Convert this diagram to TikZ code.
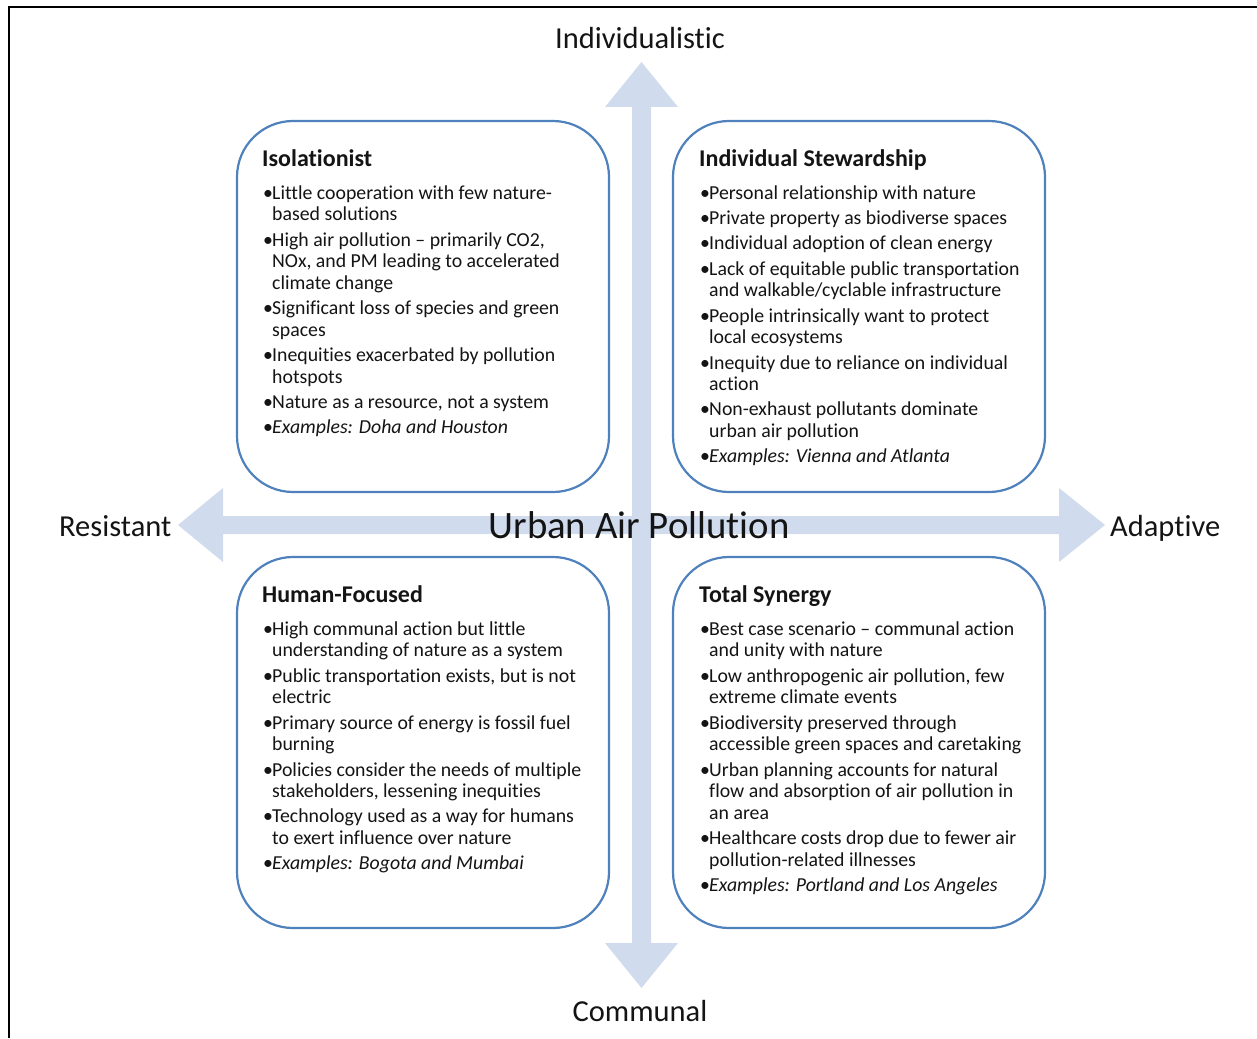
\documentclass[tikz,border=0pt]{standalone}
\usepackage{fontspec}
\setmainfont{Carlito}[Ligatures={TeX,NoCommon}]
\definecolor{boxblue}{RGB}{79,129,189}
\definecolor{arrowfill}{RGB}{208,220,238}
\definecolor{txt}{RGB}{20,20,20}
\newcommand{\qtitle}[1]{{\fontsize{24}{26}\selectfont\bfseries #1}\par\vspace{8pt}}
\newcommand{\itm}[1]{\par\hangindent=10pt\hangafter=1\noindent\makebox[10pt][l]{\hspace{1pt}\textbullet}#1}
\newenvironment{qtext}{\begin{minipage}[t]{440pt}\raggedright\fontsize{19.8}{21.6}\selectfont\setlength{\parskip}{3.7pt}}{\end{minipage}}
\begin{document}
\begin{tikzpicture}[x=1pt,y=-1pt,
  qbox/.style={draw=boxblue, line width=2.2pt, fill=white, rounded corners=56pt,
    minimum width=372pt, minimum height=371pt, inner sep=0pt},
  qtxt/.style={anchor=base west, inner sep=0pt, text=txt},
  axislabel/.style={inner sep=0pt, text=txt, font=\fontsize{30.5}{34}\selectfont}]
\useasboundingbox (0,0) rectangle (1257,1038);
\draw[line width=2pt] (9,1038) -- (9,6.7) -- (1257,6.7);
% axis arrows
\fill[arrowfill] (632,107) -- (605,107) -- (641.5,62) -- (678,107) -- (651,107)
  -- (651,943) -- (678,943) -- (641.5,988) -- (605,943) -- (632,943) -- cycle;
\fill[arrowfill] (223,516) -- (223,488) -- (178,525) -- (223,562) -- (223,534)
  -- (1059,534) -- (1059,562) -- (1105,525) -- (1059,488) -- (1059,516) -- cycle;
% boxes
\node[qbox] (tl) at (423,306.5) {};
\node[qbox] (tr) at (859,306.5) {};
\node[qbox] (bl) at (423,742.5) {};
\node[qbox] (br) at (859,742.5) {};
% labels
\node[axislabel, anchor=base] (ind) at (640,49) {Individualistic};
\node[axislabel, anchor=base] (com) at (640,1021) {Communal};
\node[axislabel, anchor=base west] (res) at (59,536) {Resistant};
\node[axislabel, anchor=base west] (ada) at (1110,536) {Adaptive};
\node[inner sep=0pt, anchor=base, text=txt, font=\fontsize{38.8}{42}\selectfont] (uap) at (639,538) {Urban Air Pollution};
% texts
\node[qtxt] (tlt) at (262,166) {\begin{qtext}
\qtitle{Isolationist}
\itm{Little cooperation with few nature-\newline based solutions}
\itm{High air pollution – primarily CO2,\newline NOx, and PM leading to accelerated\newline climate change}
\itm{Significant loss of species and green\newline spaces}
\itm{Inequities exacerbated by pollution\newline hotspots}
\itm{Nature as a resource, not a system}
\itm{\textit{Examples: Doha and Houston}}
\end{qtext}};
\node[qtxt] (trt) at (699,166) {\begin{qtext}
\qtitle{Individual Stewardship}
\itm{Personal relationship with nature}
\itm{Private property as biodiverse spaces}
\itm{Individual adoption of clean energy}
\itm{Lack of equitable public transportation\newline and walkable/cyclable infrastructure}
\itm{People intrinsically want to protect\newline local ecosystems}
\itm{Inequity due to reliance on individual\newline action}
\itm{Non-exhaust pollutants dominate\newline urban air pollution}
\itm{\textit{Examples: Vienna and Atlanta}}
\end{qtext}};
\node[qtxt] (blt) at (262,602) {\begin{qtext}
\qtitle{Human-Focused}
\itm{High communal action but little\newline understanding of nature as a system}
\itm{Public transportation exists, but is not\newline electric}
\itm{Primary source of energy is fossil fuel\newline burning}
\itm{Policies consider the needs of multiple\newline stakeholders, lessening inequities}
\itm{Technology used as a way for humans\newline to exert influence over nature}
\itm{\textit{Examples: Bogota and Mumbai}}
\end{qtext}};
\node[qtxt] (brt) at (699,602) {\begin{qtext}
\qtitle{Total Synergy}
\itm{Best case scenario – communal action\newline and unity with nature}
\itm{Low anthropogenic air pollution, few\newline extreme climate events}
\itm{Biodiversity preserved through\newline accessible green spaces and caretaking}
\itm{Urban planning accounts for natural\newline flow and absorption of air pollution in\newline an area}
\itm{Healthcare costs drop due to fewer air\newline pollution-related illnesses}
\itm{\textit{Examples: Portland and Los Angeles}}
\end{qtext}};
\end{tikzpicture}
\end{document}
